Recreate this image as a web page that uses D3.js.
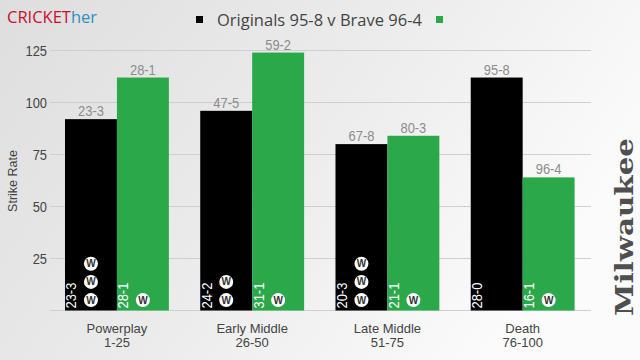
<!DOCTYPE html>
<html>
<head>
<meta charset="utf-8">
<script src="https://cdn.jsdelivr.net/npm/d3@7"></script>
<style>
  html, body { margin: 0; padding: 0; background: #f0f0f0; }
  text { font-family: "Liberation Sans", Arial, sans-serif; }
</style>
</head>
<body>
<div id="chart"></div>
<script>
var phases = ["Powerplay", "Early Middle", "Late Middle", "Death"];
var overs = ["1-25", "26-50", "51-75", "76-100"];
var seriesNames = ["Originals", "Brave"];
var seriesColors = ["#000000", "#2aa84a"];

var originalsRate = [92, 96, 80, 112];
var braveRate = [112, 124, 84, 64];
var originalsTop = ["23-3", "47-5", "67-8", "95-8"];
var braveTop = ["28-1", "59-2", "80-3", "96-4"];
var originalsInner = ["23-3", "24-2", "20-3", "28-0"];
var braveInner = ["28-1", "31-1", "21-1", "16-1"];
var originalsWickets = [3, 2, 3, 0];
var braveWickets = [1, 1, 1, 1];
var yTicks = [25, 50, 75, 100, 125];

var width = 640, height = 360;
var chart = d3.select("#chart")
  .append("svg")
  .attr("width", width)
  .attr("height", height)
  .style("display", "block");

// the reference text is set a bit condensed
function squeeze(sel, ratio) {
  sel.each(function() {
    d3.select(this)
      .attr("textLength", this.getComputedTextLength() * ratio)
      .attr("lengthAdjust", "spacingAndGlyphs");
  });
}

// Background
var grad = chart.append("defs").append("linearGradient")
  .attr("id", "bg")
  .attr("x1", "0%").attr("y1", "0%")
  .attr("x2", "100%").attr("y2", "40%");
grad.append("stop").attr("offset", "0%").attr("stop-color", "#dedede");
grad.append("stop").attr("offset", "55%").attr("stop-color", "#ececec");
grad.append("stop").attr("offset", "100%").attr("stop-color", "#fbfbfb");
chart.append("rect").attr("width", width).attr("height", height).attr("fill", "url(#bg)");

// Scales
var x = d3.scaleBand().domain(phases).range([49.3, 590.3]).paddingInner(0.232).paddingOuter(0.116);
var x1 = d3.scaleBand().domain(seriesNames).range([0, x.bandwidth()]);
var y = d3.scaleLinear().domain([0, 125]).range([310.5, 50.5]);
// wicket balls stack upward from the base of each bar
var wicketY = d3.scaleLinear().domain([0, 2]).range([y(5), y(22.5)]);

// Axes
var yAxis = d3.axisLeft(y).tickValues(yTicks).tickSize(0).tickPadding(3);
var yG = chart.append("g").attr("transform", "translate(50,0)").call(yAxis);
yG.select(".domain").remove();
yG.selectAll("text").attr("font-size", 15).attr("fill", "#444").style("font-family", "Liberation Sans");
squeeze(yG.selectAll("text"), 0.86);

chart.append("g").selectAll("line").data([0].concat(yTicks)).enter().append("line")
  .attr("x1", 50).attr("x2", 591)
  .attr("y1", function(d) { return y(d); })
  .attr("y2", function(d) { return y(d); })
  .attr("stroke", "#cfcfcf");

var xAxis = d3.axisBottom(x).tickSize(0).tickFormat("");
var xG = chart.append("g").attr("transform", "translate(0,310.5)").call(xAxis);
xG.select(".domain").remove();

var labels = chart.append("g").selectAll("text").data(phases).enter().append("text")
  .attr("text-anchor", "middle")
  .attr("font-size", 13)
  .attr("fill", "#444");
var line1 = labels.append("tspan")
  .attr("x", function(d) { return x(d) + x.bandwidth() / 2; })
  .attr("y", 332.5)
  .text(function(d) { return d; });
var line2 = labels.append("tspan")
  .attr("x", function(d) { return x(d) + x.bandwidth() / 2; })
  .attr("y", 346.5)
  .text(function(d, i) { return overs[i]; });

// Bars and their labels
function drawSeries(name, color, rates, top, inner, wickets) {
  var g = chart.append("g");
  g.selectAll("rect").data(phases).enter().append("rect")
    .attr("x", function(d) { return x(d) + x1(name); })
    .attr("width", x1.bandwidth())
    .attr("y", function(d, i) { return y(rates[i]); })
    .attr("height", function(d, i) { return y(0) - y(rates[i]); })
    .attr("fill", color);

  var topLabels = g.selectAll(".top").data(phases).enter().append("text")
    .attr("class", "top")
    .attr("x", function(d) { return x(d) + x1(name) + x1.bandwidth() / 2; })
    .attr("y", function(d, i) { return y(rates[i]) - 3; })
    .attr("text-anchor", "middle")
    .attr("font-size", 15)
    .attr("fill", "#8c8c8c")
    .text(function(d, i) { return top[i]; });
  squeeze(topLabels, 0.86);

  var innerLabels = g.selectAll(".inner").data(phases).enter().append("text")
    .attr("class", "inner")
    .attr("transform", function(d) {
      return "translate(" + (x(d) + x1(name) + 11.5) + "," + (y(0) - 2) + ") rotate(-90)";
    })
    .attr("font-size", 15)
    .attr("fill", "#fff")
    .text(function(d, i) { return inner[i]; });
  squeeze(innerLabels, 0.86);

  phases.forEach(function(p, i) {
    var cx = x(p) + x1(name) + x1.bandwidth() / 2;
    var balls = g.selectAll(".w" + i).data(d3.range(wickets[i])).enter().append("g")
      .attr("class", "w" + i)
      .attr("transform", function(k) { return "translate(" + cx + "," + wicketY(k) + ")"; });
    balls.append("circle").attr("r", 7).attr("fill", "#fff");
    balls.append("text")
      .attr("text-anchor", "middle")
      .attr("y", 3.5)
      .attr("font-size", 10)
      .attr("font-weight", "bold")
      .attr("fill", "#333")
      .text("W");
  });
}
drawSeries(seriesNames[0], seriesColors[0], originalsRate, originalsTop, originalsInner, originalsWickets);
drawSeries(seriesNames[1], seriesColors[1], braveRate, braveTop, braveInner, braveWickets);

// Y title
chart.append("text")
  .attr("transform", "translate(17,181) rotate(-90)")
  .attr("text-anchor", "middle")
  .attr("font-size", 12.5)
  .attr("fill", "#444")
  .text("Strike Rate");

// Legend
chart.append("rect").attr("x", 196).attr("y", 16).attr("width", 7).attr("height", 7).attr("fill", seriesColors[0]);
chart.append("rect").attr("x", 436).attr("y", 16).attr("width", 7).attr("height", 7).attr("fill", seriesColors[1]);
chart.append("text")
  .attr("x", 217).attr("y", 26)
  .attr("font-size", 16.5)
  .attr("fill", "#444")
  .style("font-family", "Open Sans")
  .text("Originals 95-8 v Brave 96-4");

// Brand
var brand = chart.append("text")
  .attr("x", 7).attr("y", 23)
  .attr("font-size", 16.5)
  .style("font-family", "Open Sans");
brand.append("tspan").attr("fill", "#c8102e").text("CRICKET");
brand.append("tspan").attr("fill", "#2f8fc4").text("her");

// Watermark
chart.append("text")
  .attr("transform", "translate(633,316) rotate(-90)")
  .attr("font-size", 24)
  .attr("font-weight", "bold")
  .attr("fill", "#4f4f4f")
  .attr("textLength", 178)
  .attr("lengthAdjust", "spacingAndGlyphs")
  .style("font-family", "DejaVu Serif")
  .text("Milwaukee");
</script>
</body>
</html>
